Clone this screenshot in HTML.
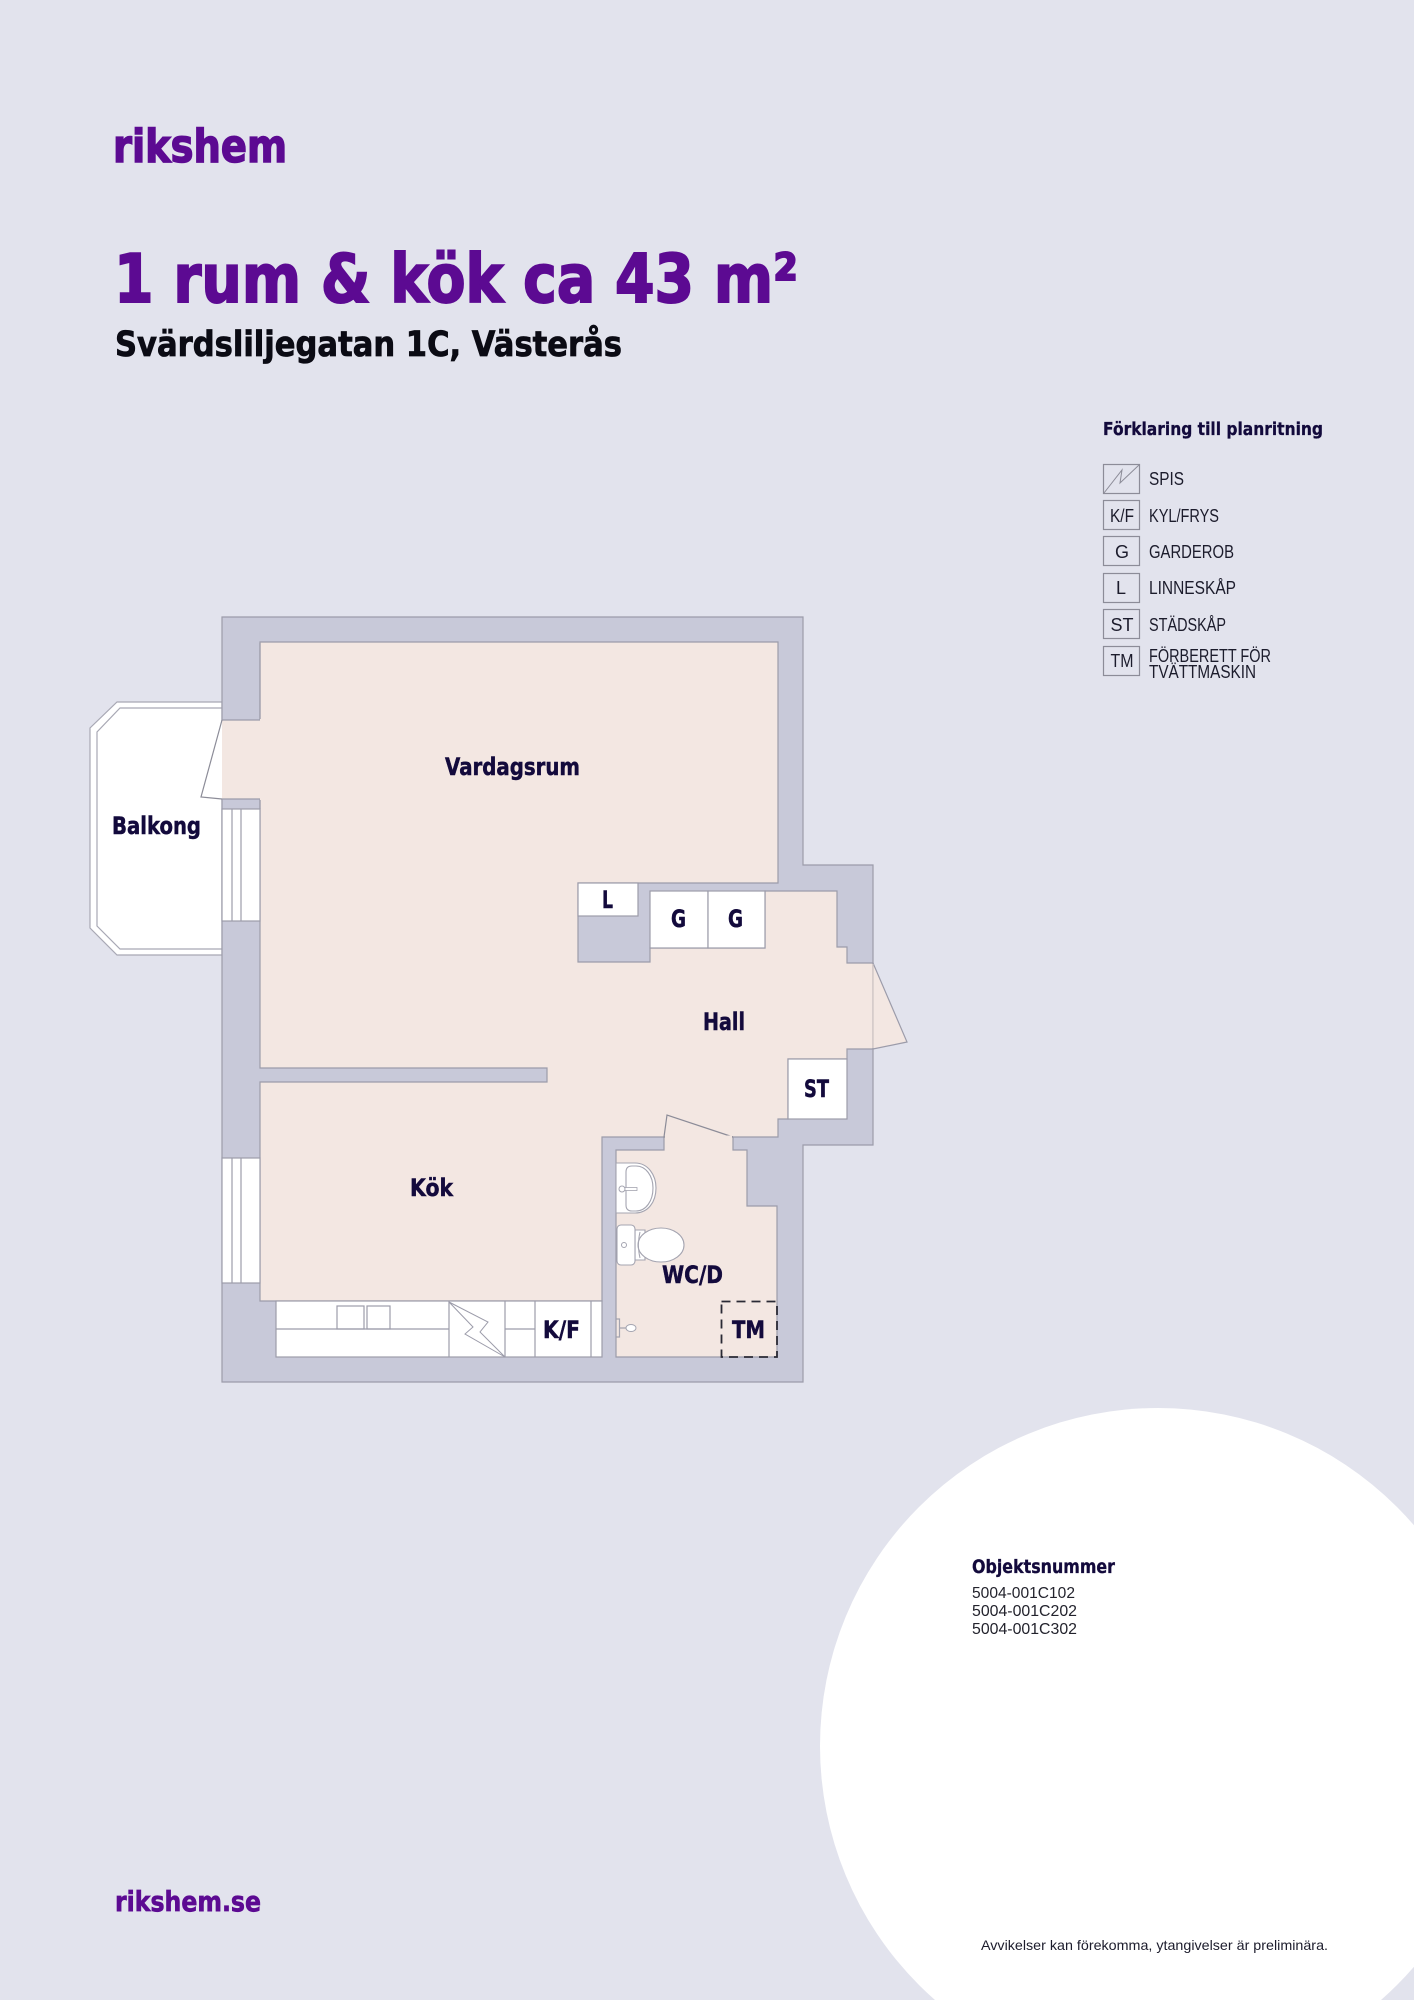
<!DOCTYPE html>
<html lang="sv">
<head>
<meta charset="utf-8">
<title>1 rum &amp; kök ca 43 m²</title>
<style>
html,body{margin:0;padding:0;background:#e2e3ed;}
svg{display:block;}
text{font-family:"Liberation Sans",sans-serif;}
.b,.l{font-family:"DejaVu Sans","Liberation Sans",sans-serif;font-weight:700;}
.l{fill:#130a3c;stroke:#130a3c;stroke-width:.5px;font-size:24px;}
.t{font-size:18px;fill:#1c1c2c;}
.s{fill:none;stroke:#9c9caa;stroke-width:1.2;}
.w{fill:#fff;stroke:#9c9caa;stroke-width:1.2;}
</style>
</head>
<body>
<svg width="1414" height="2000" viewBox="0 0 1414 2000" xmlns="http://www.w3.org/2000/svg">
<rect width="1414" height="2000" fill="#e2e3ed"/>
<circle cx="1158" cy="1746" r="338" fill="#fff"/>

<!-- Header -->
<text class="b" x="113" y="162" font-size="45" fill="#5c0a92" stroke="#5c0a92" stroke-width="1.5" textLength="174" lengthAdjust="spacingAndGlyphs">rikshem</text>
<text class="b" x="114" y="302" font-size="67" fill="#5c0a92" stroke="#5c0a92" stroke-width="2" textLength="684" lengthAdjust="spacingAndGlyphs">1 rum &amp; kök ca 43 m²</text>
<text class="b" x="115" y="356" font-size="35" fill="#0b0b14" stroke="#0b0b14" stroke-width=".8" textLength="507" lengthAdjust="spacingAndGlyphs">Svärdsliljegatan 1C, Västerås</text>

<!-- Legend -->
<text class="b" x="1103" y="435" font-size="18" fill="#130a3c" stroke="#130a3c" stroke-width=".3" textLength="220" lengthAdjust="spacingAndGlyphs">Förklaring till planritning</text>
<g fill="none" stroke="#8c8c98" stroke-width="1.2">
<rect x="1103.500" y="464.500" width="36" height="29"/>
<rect x="1103.500" y="500.500" width="36" height="29"/>
<rect x="1103.500" y="536.500" width="36" height="29"/>
<rect x="1103.500" y="573.500" width="36" height="29"/>
<rect x="1103.500" y="609.500" width="36" height="29"/>
<rect x="1103.500" y="646.500" width="36" height="29"/>
<path d="M1104 493L1122 470L1120 483L1139 465" stroke-width="1"/>
</g>
<text class="t" x="1122" y="522" text-anchor="middle" textLength="24" lengthAdjust="spacingAndGlyphs">K/F</text>
<text class="t" x="1122" y="558" text-anchor="middle">G</text>
<text class="t" x="1121" y="594" text-anchor="middle">L</text>
<text class="t" x="1122" y="631" text-anchor="middle">ST</text>
<text class="t" x="1122" y="667" text-anchor="middle" textLength="23" lengthAdjust="spacingAndGlyphs">TM</text>
<text class="t" x="1149" y="485" textLength="35" lengthAdjust="spacingAndGlyphs">SPIS</text>
<text class="t" x="1149" y="522" textLength="70" lengthAdjust="spacingAndGlyphs">KYL/FRYS</text>
<text class="t" x="1149" y="558" textLength="85" lengthAdjust="spacingAndGlyphs">GARDEROB</text>
<text class="t" x="1149" y="594" textLength="87" lengthAdjust="spacingAndGlyphs">LINNESKÅP</text>
<text class="t" x="1149" y="631" textLength="77" lengthAdjust="spacingAndGlyphs">STÄDSKÅP</text>
<text class="t" x="1149" y="662" textLength="122" lengthAdjust="spacingAndGlyphs">FÖRBERETT FÖR</text>
<text class="t" x="1149" y="678" textLength="107" lengthAdjust="spacingAndGlyphs">TVÄTTMASKIN</text>

<!-- Balcony -->
<polygon points="222,702 117,702 90,728 90,928 117,955 222,955" fill="#fff" stroke="#a8a8b4" stroke-width="1.2"/>
<polyline points="222,708 120,708 97,732 97,926 120,949 222,949" fill="none" stroke="#a8a8b4" stroke-width="1.2"/>

<!-- Walls -->
<polygon points="222,617 803,617 803,865 873,865 873,1145 803,1145 803,1382 222,1382" fill="#c8c9d9" stroke="#9c9caa" stroke-width="1.2"/>

<!-- Floors -->
<polygon points="260,642 778,642 778,883 578,883 578,962 650,962 650,948 765,948 765,891 837,891 837,947 847,947 847,963 873,963 873,1049 847,1049 847,1059 788,1059 788,1119 778,1119 778,1137 733,1137 733,1150 747,1150 747,1206 777,1206 777,1357 616,1357 616,1150 664,1150 664,1137 602,1137 602,1301 260,1301 260,1082 547,1082 547,1068 260,1068" fill="#f3e7e2" stroke="#9c9caa" stroke-width="1.2"/>
<rect x="221.500" y="720" width="39.500" height="79" fill="#f3e7e2"/>
<path class="s" d="M222 720H260M222 799H260"/>
<rect x="260" y="719" width="3" height="81" fill="#f3e7e2"/>
<line x1="260" y1="643" x2="260" y2="719" stroke="#9c9caa" stroke-width="1.2"/>
<line x1="260" y1="800" x2="260" y2="809" stroke="#9c9caa" stroke-width="1.2"/>

<!-- Door leaves -->
<polyline points="222,720 201,797 222,799" fill="#fff" stroke="#8c8c98" stroke-width="1.2"/>
<polygon points="873,963 907,1042 873,1049" fill="#f3e7e2" stroke="#9c9caa" stroke-width="1.2"/>
<polygon points="664,1137 667,1115 733,1137" fill="#f3e7e2" stroke="#8c8c98" stroke-width="1.2"/>
<line x1="665" y1="1137" x2="732" y2="1137" stroke="#f3e7e2" stroke-width="3"/>
<line x1="873" y1="964" x2="873" y2="1048" stroke="#d8ccc8" stroke-width="1"/>

<!-- Windows -->
<rect class="w" x="222" y="809" width="38" height="112"/>
<path class="s" d="M232 809V921M241 809V921"/>
<rect class="w" x="222" y="1158" width="38" height="125"/>
<path class="s" d="M232 1158V1283M241 1158V1283"/>

<!-- Closets -->
<rect class="w" x="578" y="883" width="60" height="33"/>
<rect class="w" x="650" y="891" width="58" height="57"/>
<rect class="w" x="708" y="891" width="57" height="57"/>
<rect class="w" x="788" y="1059" width="59" height="60"/>

<!-- Kitchen -->
<rect class="w" x="276" y="1301" width="326" height="56"/>
<path class="s" d="M276 1329H449M449 1301V1357M505 1301V1357M505 1329H535M535 1301V1357M591 1301V1357"/>
<rect class="s" x="337" y="1306" width="27" height="23"/>
<rect class="s" x="367" y="1306" width="23" height="23"/>
<path d="M449 1302L488 1322L480 1332L505 1357L465 1334L473 1327Z" fill="none" stroke="#9c9caa" stroke-width="1"/>

<!-- WC fixtures -->
<path d="M616 1163H635C648 1163 656 1175 656 1188C656 1202 648 1213 635 1213H616Z" fill="#fff" stroke="#a4a4b0" stroke-width="1.1"/>
<path d="M632 1166H636C646 1166 653 1176 653 1188C653 1201 646 1211 636 1211H632C628 1211 626 1209 626 1205V1172C626 1168 628 1166 632 1166Z" fill="none" stroke="#a4a4b0" stroke-width="1.1"/>
<circle cx="622" cy="1189" r="3" fill="#fff" stroke="#a4a4b0" stroke-width="1"/>
<rect x="625" y="1187.500" width="12" height="3" fill="#fff" stroke="#a4a4b0" stroke-width=".8"/>
<path d="M635 1230H645V1260H635Z" fill="#fff" stroke="#a4a4b0" stroke-width="1.1"/>
<rect x="617" y="1225" width="18" height="40" rx="4" fill="#fff" stroke="#a4a4b0" stroke-width="1.1"/>
<circle cx="624" cy="1245" r="2.500" fill="#fff" stroke="#a4a4b0" stroke-width="1"/>
<ellipse cx="661" cy="1245" rx="23" ry="17" fill="#fff" stroke="#a4a4b0" stroke-width="1.1"/>
<path d="M640 1232C638 1240 638 1250 640 1258" fill="none" stroke="#a4a4b0" stroke-width="1"/>
<path d="M616.500 1319H619.500V1337H616.500M620 1328H627" fill="none" stroke="#a4a4b0" stroke-width="1.2"/>
<ellipse cx="631" cy="1328" rx="5" ry="3.500" fill="#fff" stroke="#a4a4b0" stroke-width="1"/>
<rect x="721.500" y="1301.500" width="55.500" height="55.500" fill="none" stroke="#2a2a35" stroke-width="1.800" stroke-dasharray="9 6"/>

<!-- Room labels -->
<text class="l" x="445" y="775" textLength="135" lengthAdjust="spacingAndGlyphs">Vardagsrum</text>
<text class="l" x="112" y="834" textLength="89" lengthAdjust="spacingAndGlyphs">Balkong</text>
<text class="l" x="703" y="1030" textLength="42" lengthAdjust="spacingAndGlyphs">Hall</text>
<text class="l" x="410" y="1196" textLength="43" lengthAdjust="spacingAndGlyphs">Kök</text>
<text class="l" x="662" y="1283" textLength="61" lengthAdjust="spacingAndGlyphs">WC/D</text>
<text class="l" x="602" y="908" textLength="11" lengthAdjust="spacingAndGlyphs">L</text>
<text class="l" x="671" y="927" textLength="15" lengthAdjust="spacingAndGlyphs">G</text>
<text class="l" x="728" y="927" textLength="15" lengthAdjust="spacingAndGlyphs">G</text>
<text class="l" x="804" y="1097" textLength="25" lengthAdjust="spacingAndGlyphs">ST</text>
<text class="l" x="732" y="1338" textLength="33" lengthAdjust="spacingAndGlyphs">TM</text>
<text class="l" x="543" y="1338" textLength="37" lengthAdjust="spacingAndGlyphs">K/F</text>

<!-- Info -->
<text class="b" x="972" y="1573" font-size="19" fill="#130a3c" stroke="#130a3c" stroke-width=".3" textLength="143" lengthAdjust="spacingAndGlyphs">Objektsnummer</text>
<text x="972" y="1598" font-size="16" fill="#23232d" textLength="103" lengthAdjust="spacingAndGlyphs">5004-001C102</text>
<text x="972" y="1616" font-size="16" fill="#23232d" textLength="105" lengthAdjust="spacingAndGlyphs">5004-001C202</text>
<text x="972" y="1634" font-size="16" fill="#23232d" textLength="105" lengthAdjust="spacingAndGlyphs">5004-001C302</text>
<text x="981" y="1950" font-size="14" fill="#1c1c2c" textLength="347" lengthAdjust="spacingAndGlyphs">Avvikelser kan förekomma, ytangivelser är preliminära.</text>
<text class="b" x="115" y="1911" font-size="28" fill="#5c0a92" stroke="#5c0a92" stroke-width=".7" textLength="146" lengthAdjust="spacingAndGlyphs">rikshem.se</text>
</svg>
</body>
</html>
